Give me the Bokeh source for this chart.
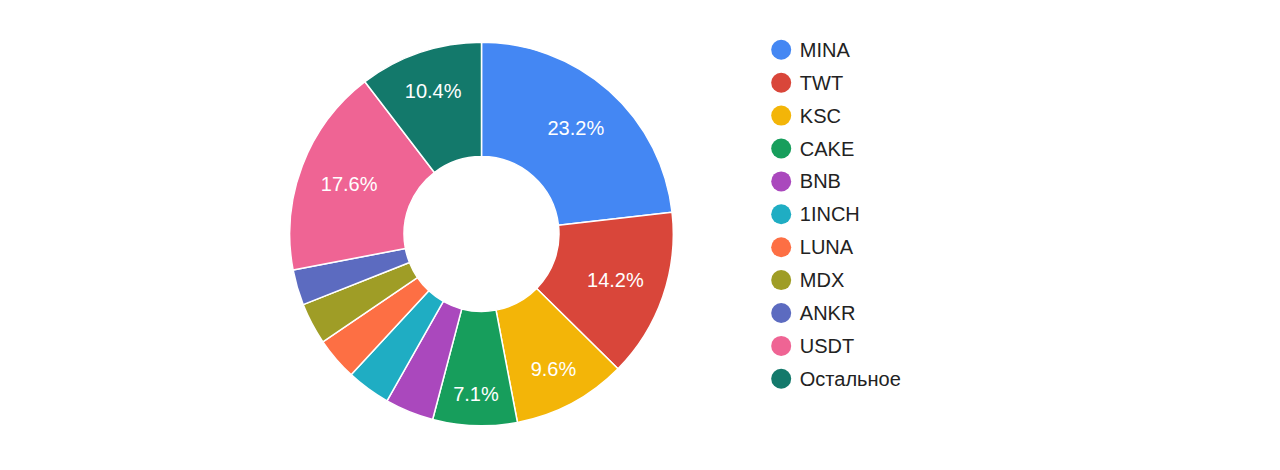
import math
from bokeh.plotting import figure
from bokeh.models import Range1d, ColumnDataSource
from bokeh.core.properties import value
from bokeh.embed import file_html
from bokeh.resources import INLINE

# ---- data ----
labels = ["MINA", "TWT", "KSC", "CAKE", "BNB", "1INCH", "LUNA", "MDX", "ANKR", "USDT", "Остальное"]
values = [23.2, 14.2, 9.6, 7.1, 4.1, 3.7, 3.6, 3.5, 3.0, 17.6, 10.4]
colors = ["#4487F3", "#D9463A", "#F3B508", "#179E5C", "#AA48BD", "#1FADC3",
          "#FD6F44", "#9F9D26", "#5C6BC0", "#EF6494", "#13796B"]

W, H = 1264, 454
FONT = "Liberation Sans"

# plot coordinates map 1:1 to page pixels (y measured from top of page)
p = figure(width=W, height=H, output_backend="svg", toolbar_location=None,
           x_range=Range1d(0, W), y_range=Range1d(-H, 0),
           min_border=0)
p.axis.visible = False
p.grid.visible = False
p.outline_line_color = None
p.background_fill_color = "white"
p.border_fill_color = "white"

def sy(y):
    return -y

cx, cy = 481, sy(233.5)
R_out = 191.8
R_in = R_out * 0.404

total = sum(values)
starts, ends = [], []
cum = 0.0
lx, ly, ltext = [], [], []
for v in values:
    f = v / total
    t0 = cum * 2 * math.pi
    t1 = (cum + f) * 2 * math.pi
    starts.append(math.pi / 2 - t1)
    ends.append(math.pi / 2 - t0)
    if f >= 0.05:
        mid = (t0 + t1) / 2
        off = max(7.0, 16 + (0.104 - f) * 273)
        r = (R_in + R_out) / 2 + off
        lx.append(cx + r * math.sin(mid))
        ly.append(cy + r * math.cos(mid))
        ltext.append(f"{f * 100:.1f}%")
    cum += f

src = ColumnDataSource(dict(start=starts, end=ends, color=colors))
p.annular_wedge(x=cx, y=cy, inner_radius=R_in, outer_radius=R_out,
                start_angle="start", end_angle="end", direction="anticlock",
                fill_color="color", line_color="white", line_width=1.5, source=src)

p.text(x=lx, y=ly, text=ltext, text_align="center", text_baseline="middle",
       text_font=value(FONT), text_font_size="20px", text_color="white")

# legend
leg_x = 780.7
leg_y0 = 49.3
leg_dy = 32.9
lgx = [leg_x] * len(labels)
lgy = [sy(leg_y0 + i * leg_dy) for i in range(len(labels))]
p.scatter(x=lgx, y=lgy, size=20, marker="circle", fill_color=colors, line_color=None)
p.text(x=[leg_x + 18.6] * len(labels), y=lgy, text=labels, text_align="left",
       text_baseline="middle", text_font=value(FONT), text_font_size="20px",
       text_color="#222222")

open("out.html", "w").write(file_html(p, INLINE))
